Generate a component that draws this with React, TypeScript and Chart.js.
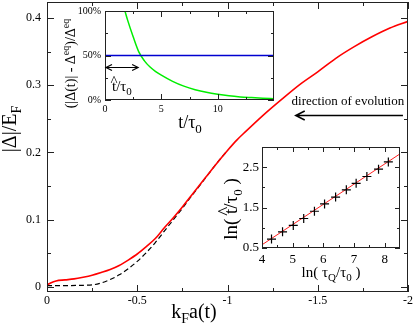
import React, { useEffect, useRef } from "react";
import { Chart, registerables } from "chart.js";

Chart.register(...registerables);

const FONT = '"Liberation Serif", "Times New Roman", serif';

// ---------- main panel data ----------
const mainX = [0, -0.02, -0.05, -0.1, -0.15, -0.2, -0.25, -0.3, -0.35, -0.4, -0.45, -0.5, -0.55, -0.6, -0.65, -0.7, -0.75, -0.8, -0.85, -0.9, -0.95, -1.0, -1.05, -1.1, -1.2, -1.3, -1.4, -1.5, -1.6, -1.7, -1.8, -1.9, -2.0];
const gapRed = [0.003, 0.006, 0.009, 0.0105, 0.012, 0.0145, 0.0175, 0.0215, 0.026, 0.032, 0.04, 0.049, 0.06, 0.072, 0.088, 0.103, 0.119, 0.136, 0.153, 0.17, 0.187, 0.203, 0.218, 0.231, 0.256, 0.279, 0.301, 0.32, 0.34, 0.357, 0.372, 0.385, 0.395];
const eqX = [0, -0.1, -0.2, -0.25, -0.3, -0.35, -0.4, -0.45, -0.5, -0.55, -0.6, -0.65, -0.7, -0.75, -0.8, -0.85, -0.9, -0.95, -1.0];
const gapEq = [0.002, 0.002, 0.0025, 0.003, 0.006, 0.011, 0.018, 0.027, 0.038, 0.051, 0.066, 0.083, 0.1, 0.117, 0.135, 0.152, 0.17, 0.187, 0.203];
const mainXTicks = [0, -0.5, -1, -1.5, -2];
const mainXLabels = ["0", "-0.5", "-1", "-1.5", "-2"];
const mainXMinor = [-0.25, -0.75, -1.25, -1.75];
const mainYTicks = [0, 0.1, 0.2, 0.3, 0.4];
const mainYLabels = ["0", "0.1", "0.2", "0.3", "0.4"];
const mainYMinor = [0.05, 0.15, 0.25, 0.35];
const directionText = "direction of evolution";
const directionTextAt = [-1.667, 0.2706];
const directionArrowX = [-1.972, -1.378];
const directionArrowY = 0.2562;

// ---------- inset 1 data ----------
const relT = [1.77, 2, 2.5, 3, 3.5, 4, 4.5, 5, 6, 7, 8, 9, 10, 11, 12, 13, 14, 15];
const relDev = [100, 90, 71, 54, 44, 37, 32, 28, 21, 15.6, 11.6, 8.6, 6.4, 4.7, 3.5, 2.7, 2.0, 1.5];
const halfLevel = 50;
const tHatSpan = [0, 2.94];
const tHatLevel = 37.4;
const in1XTicks = [0, 5, 10];
const in1XLabels = ["0", "5", "10"];
const in1XMinor = [2.5, 7.5, 12.5];
const in1YTicks = [0, 50, 100];
const in1YLabels = ["0%", "50%", "100%"];
const in1YMinor = [25, 75];

// ---------- inset 2 data ----------
const lnTauQ = [4.31, 4.67, 5.02, 5.36, 5.71, 6.04, 6.4, 6.75, 7.07, 7.42, 7.8, 8.12];
const lnTHat = [0.72, 0.9, 1.06, 1.23, 1.41, 1.59, 1.76, 1.94, 2.1, 2.27, 2.45, 2.63];
const fitX = [4, 8.5];
const fitY = [0.58, 2.83];
const in2XTicks = [4, 5, 6, 7, 8];
const in2XLabels = ["4", "5", "6", "7", "8"];
const in2XMinor = [4.5, 5.5, 6.5, 7.5];
const in2YTicks = [0.5, 1.5, 2.5];
const in2YLabels = ["0.5", "1.5", "2.5"];
const in2YMinor = [1, 2];

type Seg = { t: string; k?: "sub" | "sup" | "hat" };

function drawRich(ctx: CanvasRenderingContext2D, segs: Seg[], x: number, y: number, size: number, align: "left" | "center", rot = 0) {
  ctx.save();
  ctx.translate(x, y);
  if (rot) ctx.rotate(rot);
  ctx.fillStyle = "#000";
  ctx.textBaseline = "alphabetic";
  ctx.textAlign = "left";
  const fontOf = (s: Seg) => `${s.k === "sub" || s.k === "sup" ? Math.round(size * 0.7) : size}px ${FONT}`;
  const widths = segs.map((s) => {
    ctx.font = fontOf(s);
    return ctx.measureText(s.t).width;
  });
  const total = widths.reduce((a, b) => a + b, 0);
  let cx = align === "center" ? -total / 2 : 0;
  segs.forEach((s, i) => {
    ctx.font = fontOf(s);
    const dy = s.k === "sub" ? size * 0.25 : s.k === "sup" ? -size * 0.42 : 0;
    ctx.fillText(s.t, cx, dy);
    if (s.k === "hat") {
      const hw = ctx.measureText("^").width;
      ctx.fillText("^", cx + widths[i] / 2 - hw / 2, -size * 0.32);
    }
    cx += widths[i];
  });
  ctx.restore();
}

function drawFrame(chart: any, xMaj: number[], xMin: number[], yMaj: number[], yMin: number[], majLen: number, minLen: number) {
  const { ctx, chartArea: a, scales } = chart;
  ctx.save();
  ctx.strokeStyle = "#222";
  ctx.lineWidth = 1;
  ctx.strokeRect(a.left + 0.5, a.top + 0.5, a.right - a.left - 1, a.bottom - a.top - 1);
  ctx.beginPath();
  const xt = (v: number, len: number) => {
    const p = Math.round(scales.x.getPixelForValue(v)) + 0.5;
    ctx.moveTo(p, a.bottom);
    ctx.lineTo(p, a.bottom - len);
    ctx.moveTo(p, a.top);
    ctx.lineTo(p, a.top + len);
  };
  const yt = (v: number, len: number) => {
    const p = Math.round(scales.y.getPixelForValue(v)) + 0.5;
    ctx.moveTo(a.left, p);
    ctx.lineTo(a.left + len, p);
    ctx.moveTo(a.right, p);
    ctx.lineTo(a.right - len, p);
  };
  xMaj.forEach((v) => xt(v, majLen));
  xMin.forEach((v) => xt(v, minLen));
  yMaj.forEach((v) => yt(v, majLen));
  yMin.forEach((v) => yt(v, minLen));
  ctx.stroke();
  ctx.restore();
}

function axis(min: number, max: number, ticks: number[], labels: string[], size: number, pad: number, fit: { w?: number; h?: number }, reverse = false) {
  return {
    type: "linear" as const,
    min,
    max,
    reverse,
    grid: { display: false, drawTicks: false },
    border: { display: false },
    afterBuildTicks: (s: any) => {
      s.ticks = ticks.map((v) => ({ value: v }));
    },
    afterFit: (s: any) => {
      if (fit.w !== undefined) s.width = fit.w;
      if (fit.h !== undefined) s.height = fit.h;
      s.paddingTop = 0;
      s.paddingBottom = 0;
      s.paddingLeft = 0;
      s.paddingRight = 0;
    },
    ticks: {
      autoSkip: false,
      maxRotation: 0,
      minRotation: 0,
      padding: pad,
      color: "#000",
      font: { family: FONT, size },
      callback: (_v: any, i: number) => labels[i],
    },
  };
}

function arrowHead(ctx: CanvasRenderingContext2D, x: number, y: number, dir: number, len: number, half: number) {
  ctx.moveTo(x + dir * len, y - half);
  ctx.lineTo(x, y);
  ctx.lineTo(x + dir * len, y + half);
}

function mainConfig(): any {
  return {
    type: "scatter",
    data: {
      datasets: [
        {
          data: mainX.map((x, i) => ({ x, y: gapRed[i] })),
          showLine: true,
          borderColor: "#ff0000",
          borderWidth: 1.6,
          pointRadius: 0,
          cubicInterpolationMode: "monotone",
        },
        {
          data: eqX.map((x, i) => ({ x, y: gapEq[i] })),
          showLine: true,
          borderColor: "#000",
          borderWidth: 1.2,
          borderDash: [5, 3],
          pointRadius: 0,
          cubicInterpolationMode: "monotone",
        },
      ],
    },
    options: {
      animation: false,
      responsive: false,
      events: [],
      layout: { autoPadding: false, padding: { left: 0, top: 2, right: 7, bottom: 0 } },
      plugins: { legend: { display: false }, tooltip: { enabled: false } },
      scales: {
        x: axis(-2, 0, mainXTicks, mainXLabels, 12, 2, { h: 34 }, true),
        y: axis(-0.0075, 0.4238, mainYTicks, mainYLabels, 12, 6, { w: 47 }),
      },
    },
    plugins: [
      {
        id: "mainDeco",
        afterDraw(chart: any) {
          const { ctx, chartArea: a, scales } = chart;
          drawFrame(chart, mainXTicks, mainXMinor, mainYTicks, mainYMinor, 7, 4);
          drawRich(ctx, [{ t: "|Δ|/E" }, { t: "F", k: "sub" }], a.left - 31, 129, 20, "center", -Math.PI / 2);
          drawRich(ctx, [{ t: "k" }, { t: "F", k: "sub" }, { t: "a(t)" }], 194, 318, 20, "center");
          const tx = scales.x.getPixelForValue(directionTextAt[0]);
          const ty = scales.y.getPixelForValue(directionTextAt[1]);
          ctx.save();
          ctx.font = `13px ${FONT}`;
          ctx.fillStyle = "#000";
          ctx.textAlign = "center";
          ctx.textBaseline = "alphabetic";
          ctx.fillText(directionText, tx, ty);
          const x1 = scales.x.getPixelForValue(directionArrowX[0]);
          const x2 = scales.x.getPixelForValue(directionArrowX[1]);
          const ay = Math.round(scales.y.getPixelForValue(directionArrowY)) + 0.5;
          ctx.strokeStyle = "#000";
          ctx.lineWidth = 1.5;
          ctx.beginPath();
          ctx.moveTo(x1, ay);
          ctx.lineTo(x2, ay);
          arrowHead(ctx, x2, ay, 1, 9, 4.5);
          ctx.stroke();
          ctx.restore();
        },
      },
    ],
  };
}

function inset1Config(): any {
  return {
    type: "scatter",
    data: {
      datasets: [
        {
          data: [
            { x: 0, y: halfLevel },
            { x: 15, y: halfLevel },
          ],
          showLine: true,
          borderColor: "#0000d0",
          borderWidth: 1.5,
          pointRadius: 0,
        },
        {
          data: relT.map((x, i) => ({ x, y: relDev[i] })),
          showLine: true,
          borderColor: "#00ee00",
          borderWidth: 1.5,
          pointRadius: 0,
          cubicInterpolationMode: "monotone",
        },
      ],
    },
    options: {
      animation: false,
      responsive: false,
      events: [],
      layout: { autoPadding: false, padding: { left: 75, top: 11, right: 141, bottom: 210 } },
      plugins: { legend: { display: false }, tooltip: { enabled: false } },
      scales: {
        x: axis(0, 15, in1XTicks, in1XLabels, 10, 3, { h: 16 }),
        y: axis(0, 100, in1YTicks, in1YLabels, 10, 4, { w: 30 }),
      },
    },
    plugins: [
      {
        id: "in1Bg",
        beforeDraw(chart: any) {
          const { ctx, chartArea: a } = chart;
          ctx.save();
          ctx.fillStyle = "#fff";
          ctx.fillRect(a.left, a.top, a.right - a.left, a.bottom - a.top);
          ctx.restore();
        },
        afterDraw(chart: any) {
          const { ctx, chartArea: a, scales } = chart;
          drawFrame(chart, in1XTicks, in1XMinor, in1YTicks, in1YMinor, 6, 3);
          const x1 = scales.x.getPixelForValue(tHatSpan[0]) + 1;
          const x2 = scales.x.getPixelForValue(tHatSpan[1]);
          const ay = Math.round(scales.y.getPixelForValue(tHatLevel)) + 0.5;
          ctx.save();
          ctx.strokeStyle = "#000";
          ctx.lineWidth = 1.2;
          ctx.beginPath();
          ctx.moveTo(x1, ay);
          ctx.lineTo(x2, ay);
          arrowHead(ctx, x1, ay, 1, 6, 3);
          arrowHead(ctx, x2, ay, -1, 6, 3);
          ctx.stroke();
          ctx.restore();
          drawRich(ctx, [{ t: "t", k: "hat" }, { t: "/τ" }, { t: "0", k: "sub" }], a.left + 7, a.bottom - 9, 15, "left");
          drawRich(ctx, [{ t: "t/τ" }, { t: "0", k: "sub" }], 190, 128, 18, "center");
          drawRich(
            ctx,
            [{ t: "(|Δ(t)| - Δ" }, { t: "eq", k: "sup" }, { t: ")/Δ" }, { t: "eq", k: "sup" }],
            a.left - 30,
            (a.top + a.bottom) / 2 + 8,
            14,
            "center",
            -Math.PI / 2
          );
        },
      },
    ],
  };
}

function inset2Config(): any {
  return {
    type: "scatter",
    data: {
      datasets: [
        {
          data: lnTauQ.map((x, i) => ({ x, y: lnTHat[i] })),
          showLine: false,
          pointStyle: "cross",
          pointRadius: 4.5,
          borderColor: "#000",
          borderWidth: 1.2,
        },
        {
          data: fitX.map((x, i) => ({ x, y: fitY[i] })),
          showLine: true,
          borderColor: "#ff2020",
          borderWidth: 1,
          pointRadius: 0,
        },
      ],
    },
    options: {
      animation: false,
      responsive: false,
      events: [],
      layout: { autoPadding: false, padding: { left: 232, top: 147, right: 15, bottom: 58 } },
      plugins: { legend: { display: false }, tooltip: { enabled: false } },
      scales: {
        x: axis(4, 8.5, in2XTicks, in2XLabels, 13, 4, { h: 20 }),
        y: axis(0.5, 3, in2YTicks, in2YLabels, 13, 3, { w: 30 }),
      },
    },
    plugins: [
      {
        id: "in2Bg",
        beforeDraw(chart: any) {
          const { ctx, chartArea: a } = chart;
          ctx.save();
          ctx.fillStyle = "#fff";
          ctx.fillRect(a.left, a.top, a.right - a.left, a.bottom - a.top);
          ctx.restore();
        },
        afterDraw(chart: any) {
          const { ctx, chartArea: a } = chart;
          drawFrame(chart, in2XTicks, in2XMinor, in2YTicks, in2YMinor, 5, 3);
          drawRich(
            ctx,
            [{ t: "ln( " }, { t: "t", k: "hat" }, { t: "/τ" }, { t: "0", k: "sub" }, { t: " )" }],
            a.left - 25,
            209,
            19,
            "center",
            -Math.PI / 2
          );
          drawRich(ctx, [{ t: "ln( τ" }, { t: "Q", k: "sub" }, { t: "/τ" }, { t: "0", k: "sub" }, { t: " )" }], 331, 277, 15, "center");
        },
      },
    ],
  };
}

export default function App() {
  const mainRef = useRef<HTMLCanvasElement>(null);
  const in1Ref = useRef<HTMLCanvasElement>(null);
  const in2Ref = useRef<HTMLCanvasElement>(null);

  useEffect(() => {
    const charts = [
      new Chart(mainRef.current as HTMLCanvasElement, mainConfig()),
      new Chart(in1Ref.current as HTMLCanvasElement, inset1Config()),
      new Chart(in2Ref.current as HTMLCanvasElement, inset2Config()),
    ];
    return () => charts.forEach((c) => c.destroy());
  }, []);

  const cs: React.CSSProperties = { position: "absolute", left: 0, top: 0, width: 415, height: 326 };
  return (
    <div style={{ position: "absolute", left: 0, top: 0, width: 415, height: 326, background: "#fff", overflow: "hidden" }}>
      <canvas ref={mainRef} width={415} height={326} style={cs} />
      <canvas ref={in1Ref} width={415} height={326} style={cs} />
      <canvas ref={in2Ref} width={415} height={326} style={cs} />
    </div>
  );
}
